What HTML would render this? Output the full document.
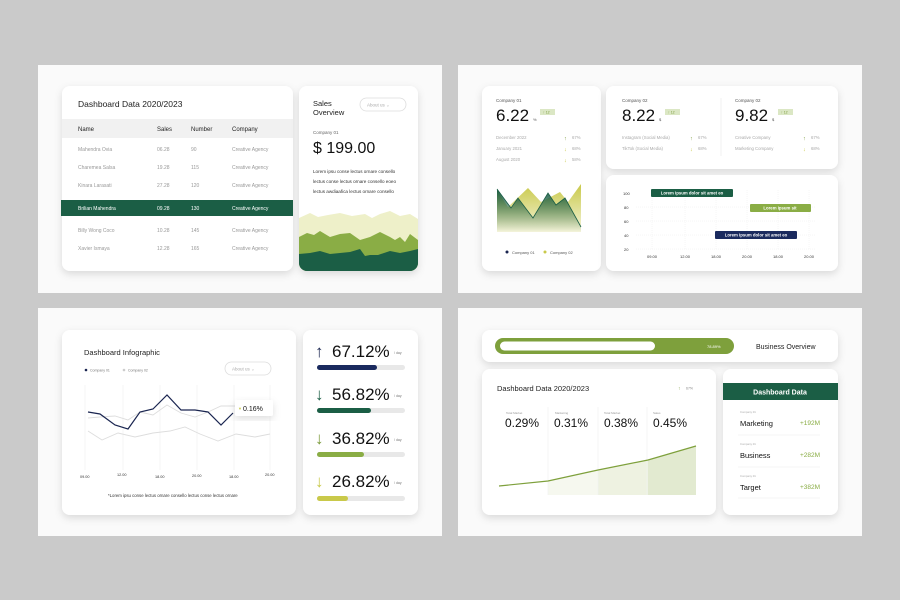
<!DOCTYPE html>
<html><head><meta charset="utf-8"><style>
html,body{margin:0;padding:0;background:#cacaca;}
svg{display:block;font-family:"Liberation Sans",sans-serif;}
</style></head><body>
<svg width="900" height="600" viewBox="0 0 900 600" xmlns="http://www.w3.org/2000/svg">
<defs>
<filter id="sh" x="-20%" y="-20%" width="140%" height="150%"><feDropShadow dx="0" dy="3" stdDeviation="4" flood-color="#000" flood-opacity="0.13"/></filter>
<linearGradient id="gd" x1="0" y1="0" x2="0" y2="1"><stop offset="0" stop-color="#1b5e45"/><stop offset="1" stop-color="#1b5e45" stop-opacity="0"/></linearGradient>
<linearGradient id="gy" x1="0" y1="0" x2="0" y2="1"><stop offset="0" stop-color="#c9c94a"/><stop offset="1" stop-color="#c9c94a" stop-opacity="0.2"/></linearGradient>
<clipPath id="sc"><rect x="299" y="86" width="119" height="185" rx="8"/></clipPath>
</defs>
<rect width="900" height="600" fill="#cacaca"/>
<rect x="38" y="65" width="404" height="228" fill="#fafafa"/>
<rect x="458" y="65" width="404" height="228" fill="#fafafa"/>
<rect x="38" y="308" width="404" height="228" fill="#fafafa"/>
<rect x="458" y="308" width="404" height="228" fill="#fafafa"/>

<!-- PANEL 1 -->
<rect x="62" y="86" width="231" height="185" rx="8" fill="#fff" filter="url(#sh)"/>
<text x="78" y="107" font-size="8.5" fill="#222">Dashboard Data 2020/2023</text>
<rect x="62" y="119" width="231" height="19" fill="#f1f1f1"/>
<g font-size="6" fill="#222"><text x="78" y="131">Name</text><text x="157" y="131">Sales</text><text x="191" y="131">Number</text><text x="232" y="131">Company</text></g>
<g font-size="5" fill="#999">
<text x="78" y="151">Mahendra Ovia</text><text x="157" y="151">06.28</text><text x="191" y="151">90</text><text x="232" y="151">Creative Agency</text>
<text x="78" y="169">Charemea Salsa</text><text x="157" y="169">19.28</text><text x="191" y="169">115</text><text x="232" y="169">Creative Agency</text>
<text x="78" y="187">Kinara Larasati</text><text x="157" y="187">27.28</text><text x="191" y="187">120</text><text x="232" y="187">Creative Agency</text>
<text x="78" y="232">Billy Wong Coco</text><text x="157" y="232">10.28</text><text x="191" y="232">145</text><text x="232" y="232">Creative Agency</text>
<text x="78" y="250">Xavier Ismaya</text><text x="157" y="250">12.28</text><text x="191" y="250">165</text><text x="232" y="250">Creative Agency</text>
</g>
<rect x="61" y="200" width="232" height="16" fill="#1b5e45"/>
<g font-size="5" fill="#fff"><text x="78" y="210">Brilian Mahendra</text><text x="157" y="210">09.28</text><text x="191" y="210">130</text><text x="232" y="210">Creative Agency</text></g>

<rect x="299" y="86" width="119" height="185" rx="8" fill="#fff" filter="url(#sh)"/>
<text x="313" y="106" font-size="7.5" fill="#222">Sales</text><text x="313" y="115" font-size="7.5" fill="#222">Overview</text>
<rect x="360" y="98" width="46" height="13" rx="6.5" fill="#fff" stroke="#ddd" stroke-width="0.8"/>
<text x="367" y="106.5" font-size="4.5" fill="#aaa">About us ⌄</text>
<text x="313" y="134" font-size="4.5" fill="#666">Company 01</text>
<text x="313" y="153" font-size="16" fill="#111">$ 199.00</text>
<g font-size="4.6" fill="#333"><text x="313" y="173">Lorem ipsu conse lectus ornare consello</text><text x="313" y="183">lectus conse lectus ornare consello eoeo</text><text x="313" y="193">lectus awdiaafica lectus ornare consello</text></g>
<g clip-path="url(#sc)">
<polygon points="299,218 310,213 318,217 328,215 340,213 352,216 365,214 372,218 380,214 390,211 400,216 410,214 418,219 418,271 299,271" fill="#eef0c9"/>
<polygon points="299,237 307,233 314,235 320,231 330,237 340,234 350,233 360,240 370,237 380,232 390,237 395,240 400,237 405,242 410,234 418,240 418,271 299,271" fill="#8aad45"/>
<polygon points="299,254 310,253 320,251 330,254 340,253 350,252 360,249 365,256 370,255 378,255 390,251 400,253 410,251 418,249 418,271 299,271" fill="#1b5e45"/>
</g>

<!-- PANEL 2 -->
<rect x="482" y="86" width="119" height="185" rx="8" fill="#fff" filter="url(#sh)"/>
<text x="496" y="102" font-size="4.5" fill="#555">Company 01</text>
<text x="496" y="121" font-size="17" fill="#111">6.22</text><text x="533" y="121" font-size="4" fill="#555">%</text>
<rect x="540" y="109" width="15" height="6" fill="#dbe7c4"/><text x="543" y="113.5" font-size="3.5" fill="#7a9a3a">↑ 12</text>
<g font-size="4.3" fill="#aaa"><text x="496" y="139">December 2022</text><text x="496" y="150">January 2021</text><text x="496" y="161">August 2020</text>
<text x="572" y="139">67%</text><text x="572" y="150">68%</text><text x="572" y="161">58%</text></g>
<g font-size="5.5"><text x="564" y="140" fill="#7a9a3a">↑</text><text x="564" y="151" fill="#c9c94a">↓</text><text x="564" y="162" fill="#c9c94a">↓</text></g>
<polygon points="497,190 508,207 528,188 541,202 560,192 568,202 581,184 581,232 497,232" fill="url(#gy)"/>
<polygon points="497,189 511,208 518,198 533,218 548,193 556,205 565,198 581,227 581,232 497,232" fill="url(#gd)"/>
<polyline points="497,189 511,208 518,198 533,218 548,193 556,205 565,198 581,227" fill="none" stroke="#1b5e45" stroke-width="0.8"/>
<circle cx="507" cy="252" r="1.5" fill="#1a2550"/><text x="512" y="254" font-size="4" fill="#555">Company 01</text>
<circle cx="545" cy="252" r="1.5" fill="#c9c94a"/><text x="550" y="254" font-size="4" fill="#555">Company 02</text>

<rect x="606" y="86" width="232" height="83" rx="8" fill="#fff" filter="url(#sh)"/>
<line x1="721" y1="98" x2="721" y2="156" stroke="#eee" stroke-width="0.8"/>
<text x="622" y="102" font-size="4.5" fill="#555">Company 02</text>
<text x="622" y="121" font-size="17" fill="#111">8.22</text><text x="659" y="121" font-size="4" fill="#555">$</text>
<rect x="665" y="109" width="15" height="6" fill="#dbe7c4"/><text x="668" y="113.5" font-size="3.5" fill="#7a9a3a">↑ 12</text>
<g font-size="4.3" fill="#aaa"><text x="622" y="139">Instagram (Social Media)</text><text x="622" y="150">TikTok (Social Media)</text><text x="698" y="139">67%</text><text x="698" y="150">68%</text></g>
<text x="690" y="140" font-size="5.5" fill="#7a9a3a">↑</text><text x="690" y="151" font-size="5.5" fill="#c9c94a">↓</text>
<text x="735" y="102" font-size="4.5" fill="#555">Company 02</text>
<text x="735" y="121" font-size="17" fill="#111">9.82</text><text x="772" y="121" font-size="4" fill="#555">$</text>
<rect x="778" y="109" width="15" height="6" fill="#dbe7c4"/><text x="781" y="113.5" font-size="3.5" fill="#7a9a3a">↑ 12</text>
<g font-size="4.3" fill="#aaa"><text x="735" y="139">Creative Company</text><text x="735" y="150">Marketing Company</text><text x="811" y="139">67%</text><text x="811" y="150">68%</text></g>
<text x="803" y="140" font-size="5.5" fill="#7a9a3a">↑</text><text x="803" y="151" font-size="5.5" fill="#c9c94a">↓</text>

<rect x="606" y="175" width="232" height="96" rx="8" fill="#fff" filter="url(#sh)"/>
<g font-size="4" fill="#333"><text x="623" y="195">100</text><text x="624" y="209">80</text><text x="624" y="223">60</text><text x="624" y="237">40</text><text x="624" y="251">20</text>
<text x="647" y="258">09.00</text><text x="680" y="258">12.00</text><text x="711" y="258">18.00</text><text x="742" y="258">20.00</text><text x="773" y="258">18.00</text><text x="804" y="258">20.00</text></g>
<g stroke="#eee" stroke-width="0.5" stroke-dasharray="1,1"><line x1="636" y1="207" x2="815" y2="207"/><line x1="636" y1="221" x2="815" y2="221"/><line x1="636" y1="235" x2="815" y2="235"/><line x1="636" y1="249" x2="815" y2="249"/>
<line x1="652" y1="190" x2="652" y2="250"/><line x1="685" y1="190" x2="685" y2="250"/><line x1="716" y1="190" x2="716" y2="250"/><line x1="747" y1="190" x2="747" y2="250"/><line x1="778" y1="190" x2="778" y2="250"/><line x1="809" y1="190" x2="809" y2="250"/></g>
<rect x="651" y="189" width="82" height="8" rx="1" fill="#1b5e45"/><text x="692" y="194.5" font-size="4.3" font-weight="bold" fill="#fff" text-anchor="middle">Lorem ipsum dolor sit amet eo</text>
<rect x="750" y="204" width="61" height="8" rx="1" fill="#8aad45"/><text x="780" y="209.5" font-size="4.3" font-weight="bold" fill="#fff" text-anchor="middle">Lorem ipsum sit</text>
<rect x="715" y="231" width="82" height="8" rx="1" fill="#1a2a5e"/><text x="756" y="236.5" font-size="4.3" font-weight="bold" fill="#fff" text-anchor="middle">Lorem ipsum dolor sit amet eo</text>

<!-- PANEL 3 -->
<rect x="62" y="330" width="234" height="185" rx="8" fill="#fff" filter="url(#sh)"/>
<text x="84" y="355" font-size="7.5" fill="#222">Dashboard Infographic</text>
<circle cx="86" cy="370" r="1.3" fill="#1a2550"/><text x="90" y="371.5" font-size="3.5" fill="#777">Company 01</text>
<circle cx="124" cy="370" r="1.3" fill="#ccc"/><text x="128" y="371.5" font-size="3.5" fill="#777">Company 02</text>
<rect x="225" y="362" width="46" height="13" rx="6.5" fill="#fff" stroke="#ddd" stroke-width="0.8"/>
<text x="232" y="370.5" font-size="4.5" fill="#aaa">About us ⌄</text>
<g stroke="#f0f0f0" stroke-width="0.6"><line x1="85" y1="385" x2="85" y2="470"/><line x1="123" y1="385" x2="123" y2="470"/><line x1="160" y1="385" x2="160" y2="470"/><line x1="197" y1="385" x2="197" y2="470"/><line x1="234" y1="385" x2="234" y2="470"/><line x1="270" y1="385" x2="270" y2="470"/></g>
<polyline points="88,418 100,417 115,416 128,420 140,412 153,415 167,405 181,413 195,417 208,412 221,406 233,406 248,406 270,408" fill="none" stroke="#ddd" stroke-width="0.9"/>
<polyline points="88,431 102,440 118,433 135,437 153,433 170,431 185,427 200,434 218,441 236,434 255,437 270,434" fill="none" stroke="#ddd" stroke-width="0.9"/>
<polyline points="88,412 100,414 115,425 128,429 140,412 153,409 167,395 181,410 195,410 208,412 221,425 233,413" fill="none" stroke="#1a2550" stroke-width="1.2"/>
<rect x="235" y="400" width="38" height="16" rx="2" fill="#fff" filter="url(#sh)"/>
<text x="238" y="410" font-size="4" fill="#c9c94a">▼</text><text x="243" y="411" font-size="7" fill="#111">0.16%</text>
<g font-size="3.8" fill="#333"><text x="80" y="478">09.00</text><text x="117" y="476">12.00</text><text x="155" y="478">18.00</text><text x="192" y="477">20.00</text><text x="229" y="478">18.00</text><text x="265" y="476">20.00</text></g>
<text x="108" y="497" font-size="4.3" fill="#333">*Lorem ipsu conse lectus ornare consello lectus conse lectus ornare</text>

<rect x="303" y="330" width="115" height="185" rx="8" fill="#fff" filter="url(#sh)"/>
<g font-size="17" fill="#111">
<text x="315" y="357" fill="#1a2550">↑</text><text x="332" y="357">67.12%</text>
<text x="315" y="400" fill="#1b5e45">↓</text><text x="332" y="400">56.82%</text>
<text x="315" y="444" fill="#7a9a3a">↓</text><text x="332" y="444">36.82%</text>
<text x="315" y="487" fill="#c9c94a">↓</text><text x="332" y="487">26.82%</text></g>
<g font-size="3.5" fill="#777"><text x="394" y="354">/ day</text><text x="394" y="397">/ day</text><text x="394" y="441">/ day</text><text x="394" y="484">/ day</text></g>
<g fill="#e8e8e8"><rect x="317" y="365" width="88" height="5" rx="2.5"/><rect x="317" y="408" width="88" height="5" rx="2.5"/><rect x="317" y="452" width="88" height="5" rx="2.5"/><rect x="317" y="496" width="88" height="5" rx="2.5"/></g>
<rect x="317" y="365" width="60" height="5" rx="2.5" fill="#1a2a5e"/>
<rect x="317" y="408" width="54" height="5" rx="2.5" fill="#1b5e45"/>
<rect x="317" y="452" width="47" height="5" rx="2.5" fill="#8aad45"/>
<rect x="317" y="496" width="31" height="5" rx="2.5" fill="#c9c94a"/>

<!-- PANEL 4 -->
<rect x="482" y="330" width="356" height="32" rx="8" fill="#fff" filter="url(#sh)"/>
<rect x="495" y="338" width="239" height="16" rx="8" fill="#7ea03c"/>
<rect x="500" y="341.5" width="155" height="9" rx="4.5" fill="#fff"/>
<text x="707" y="348" font-size="4" fill="#fff">78.89%</text>
<text x="756" y="349" font-size="7" fill="#222">Business Overview</text>

<rect x="482" y="369" width="234" height="146" rx="8" fill="#fff" filter="url(#sh)"/>
<text x="497" y="391" font-size="7.5" fill="#222">Dashboard Data 2020/2023</text>
<text x="678" y="390" font-size="5" fill="#7a9a3a">↑</text><text x="686" y="389.5" font-size="3.5" fill="#888">67%</text>
<polygon points="548,481 598,470 598,495 548,495" fill="#f6f8ef"/>
<polygon points="598,470 648,460 648,495 598,495" fill="#eef2e1"/>
<polygon points="648,460 696,446 696,495 648,495" fill="#e2ead0"/>
<g stroke="#f0f0f0" stroke-width="0.6"><line x1="548" y1="407" x2="548" y2="495"/><line x1="598" y1="407" x2="598" y2="495"/><line x1="647" y1="407" x2="647" y2="495"/></g>
<g font-size="3" fill="#999"><text x="506" y="414">Total Market</text><text x="555" y="414">Marketing</text><text x="604" y="414">Total Market</text><text x="653" y="414">Sales</text></g>
<g font-size="12" fill="#111"><text x="505" y="427">0.29%</text><text x="554" y="427">0.31%</text><text x="604" y="427">0.38%</text><text x="653" y="427">0.45%</text></g>
<polyline points="499,486 548,481 598,470 648,460 696,446" fill="none" stroke="#7ea03c" stroke-width="1.2"/>

<rect x="723" y="369" width="115" height="146" rx="8" fill="#fff" filter="url(#sh)"/>
<rect x="723" y="383" width="115" height="17" fill="#1b5e45"/>
<text x="780" y="394.5" font-size="7" font-weight="bold" fill="#fff" text-anchor="middle">Dashboard Data</text>
<g font-size="2.8" fill="#aaa"><text x="740" y="413">Company 01</text><text x="740" y="445">Company 01</text><text x="740" y="477">Company 01</text></g>
<g font-size="7.5" fill="#111"><text x="740" y="426">Marketing</text><text x="740" y="458">Business</text><text x="740" y="490">Target</text></g>
<g font-size="6.5" fill="#8aad45" text-anchor="end"><text x="820" y="425">+192M</text><text x="820" y="457">+282M</text><text x="820" y="489">+382M</text></g>
<g stroke="#eee" stroke-width="0.6"><line x1="738" y1="435" x2="820" y2="435"/><line x1="738" y1="467" x2="820" y2="467"/><line x1="738" y1="498" x2="820" y2="498"/></g>
</svg>
</body></html>
